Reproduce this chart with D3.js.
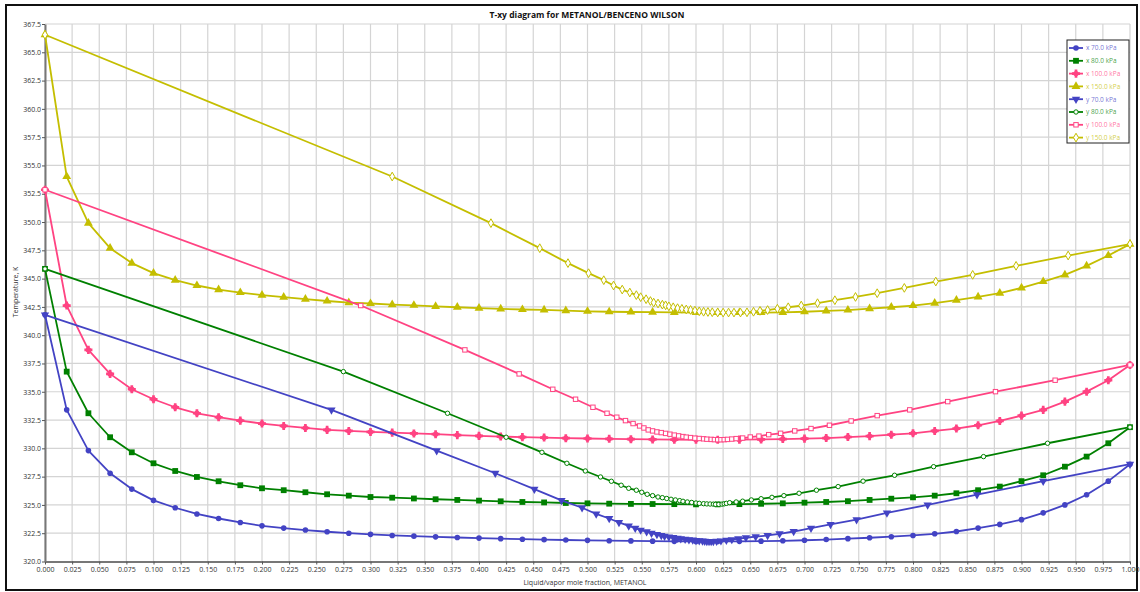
<!DOCTYPE html>
<html><head><meta charset="utf-8">
<script src="https://cdn.jsdelivr.net/npm/d3@7/dist/d3.min.js"></script>
<style>body{margin:0;background:#fff}svg{display:block;font-family:"Open Sans","Noto Sans",sans-serif}</style>
</head><body><svg id="c" width="1140" height="592"></svg>
<script>
const title = "T-xy diagram for METANOL/BENCENO WILSON";
const xLabel = "Liquid/vapor mole fraction, METANOL";
const yLabel = "Temperature, K";
const xs = [0.00,0.02,0.04,0.06,0.08,0.10,0.12,0.14,0.16,0.18,0.20,0.22,0.24,0.26,0.28,0.30,0.32,0.34,0.36,0.38,0.40,0.42,0.44,0.46,0.48,0.50,0.52,0.54,0.56,0.58,0.60,0.62,0.64,0.66,0.68,0.70,0.72,0.74,0.76,0.78,0.80,0.82,0.84,0.86,0.88,0.90,0.92,0.94,0.96,0.98,1.00];
const T70 = [341.8,333.4,329.8,327.8,326.4,325.4,324.75,324.2,323.8,323.45,323.15,322.95,322.78,322.63,322.5,322.4,322.3,322.24,322.18,322.12,322.07,322.02,321.97,321.93,321.9,321.87,321.84,321.82,321.8,321.78,321.77,321.77,321.78,321.8,321.83,321.88,321.94,322.02,322.1,322.19,322.3,322.45,322.65,322.95,323.28,323.7,324.3,325.0,325.9,327.1,328.6];
const Y70 = [0,0.264,0.361,0.415,0.451,0.476,0.495,0.508,0.520,0.529,0.538,0.544,0.549,0.5545,0.559,0.564,0.568,0.571,0.575,0.579,0.583,0.586,0.590,0.5935,0.597,0.600,0.603,0.606,0.608,0.610,0.612,0.614,0.616,0.619,0.623,0.628,0.633,0.639,0.646,0.655,0.666,0.677,0.690,0.706,0.724,0.748,0.776,0.8135,0.859,0.920,1.0];
const T80 = [345.86,336.78,333.1,330.98,329.65,328.68,328.0,327.47,327.09,326.74,326.47,326.3,326.12,325.94,325.82,325.7,325.64,325.57,325.5,325.44,325.38,325.32,325.26,325.22,325.17,325.14,325.11,325.09,325.08,325.07,325.05,325.05,325.07,325.1,325.14,325.2,325.26,325.33,325.44,325.55,325.67,325.82,326.03,326.3,326.62,327.1,327.62,328.38,329.27,330.45,331.87];
const Y80 = [0,0.275,0.371,0.425,0.458,0.481,0.498,0.512,0.522,0.531,0.538,0.545,0.550,0.555,0.560,0.565,0.569,0.573,0.577,0.581,0.585,0.588,0.592,0.596,0.600,0.603,0.607,0.610,0.613,0.616,0.618,0.621,0.624,0.626,0.628,0.631,0.637,0.643,0.651,0.660,0.670,0.681,0.695,0.711,0.731,0.754,0.783,0.819,0.865,0.924,1.0];
const T100 = [352.85,342.62,338.7,336.58,335.22,334.34,333.63,333.1,332.75,332.45,332.19,331.98,331.8,331.63,331.54,331.45,331.39,331.32,331.25,331.17,331.1,331.04,330.99,330.95,330.9,330.87,330.84,330.81,330.79,330.77,330.76,330.76,330.77,330.79,330.82,330.86,330.91,331.0,331.08,331.21,331.33,331.54,331.75,332.04,332.42,332.89,333.4,334.13,335.01,336.02,337.37];
const Y100 = [0,0.291,0.387,0.437,0.468,0.489,0.505,0.518,0.527,0.535,0.542,0.548,0.552,0.556,0.560,0.564,0.568,0.572,0.576,0.580,0.584,0.588,0.591,0.595,0.599,0.603,0.607,0.610,0.614,0.617,0.620,0.623,0.626,0.629,0.633,0.637,0.643,0.650,0.658,0.667,0.678,0.691,0.706,0.723,0.743,0.767,0.797,0.832,0.876,0.931,1.0];
const T150 = [366.55,354.02,349.9,347.69,346.37,345.48,344.86,344.39,344.03,343.77,343.54,343.36,343.18,343.02,342.88,342.8,342.7,342.64,342.55,342.47,342.39,342.33,342.27,342.23,342.17,342.11,342.07,342.05,342.03,342.01,342.0,342.0,342.0,342.0,342.02,342.07,342.15,342.22,342.34,342.47,342.62,342.83,343.09,343.38,343.71,344.18,344.74,345.33,346.13,347.04,348.05];
const Y150 = [0,0.320,0.411,0.456,0.482,0.501,0.515,0.524,0.532,0.539,0.545,0.549,0.554,0.558,0.561,0.565,0.569,0.572,0.575,0.579,0.583,0.587,0.591,0.595,0.599,0.603,0.607,0.611,0.615,0.620,0.625,0.630,0.635,0.641,0.647,0.653,0.659,0.666,0.675,0.685,0.697,0.712,0.728,0.747,0.767,0.792,0.821,0.855,0.895,0.943,1.0];
const xTicks = [0.000,0.025,0.050,0.075,0.100,0.125,0.150,0.175,0.200,0.225,0.250,0.275,0.300,0.325,0.350,0.375,0.400,0.425,0.450,0.475,0.500,0.525,0.550,0.575,0.600,0.625,0.650,0.675,0.700,0.725,0.750,0.775,0.800,0.825,0.850,0.875,0.900,0.925,0.950,0.975,1.000];
const yTicks = [320.0,322.5,325.0,327.5,330.0,332.5,335.0,337.5,340.0,342.5,345.0,347.5,350.0,352.5,355.0,357.5,360.0,362.5,365.0,367.5];
const seriesNames = ["x 70.0 kPa","x 80.0 kPa","x 100.0 kPa","x 150.0 kPa","y 70.0 kPa","y 80.0 kPa","y 100.0 kPa","y 150.0 kPa"];

const C = {b:"#4343c4", g:"#008000", p:"#ff4382", y:"#c4be00"};
const series = [
  {name:seriesNames[0], col:C.b, xv:xs, T:T70, m:"circle"},
  {name:seriesNames[1], col:C.g, xv:xs, T:T80, m:"square"},
  {name:seriesNames[2], col:C.p, xv:xs, T:T100, m:"star"},
  {name:seriesNames[3], col:C.y, xv:xs, T:T150, m:"triup"},
  {name:seriesNames[4], col:C.b, xv:Y70, T:T70, m:"tridown"},
  {name:seriesNames[5], col:C.g, xv:Y80, T:T80, m:"ocircle"},
  {name:seriesNames[6], col:C.p, xv:Y100, T:T100, m:"osquare"},
  {name:seriesNames[7], col:C.y, xv:Y150, T:T150, m:"odiamond"}
];

const svg = d3.select("#c");
const x = d3.scaleLinear().domain([0,1]).range([45,1130]);
const y = d3.scaleLinear().domain([320,367.5]).range([561.5,24]);

svg.append("rect").attr("x",6).attr("y",5).attr("width",1131).attr("height",585)
  .attr("fill","#fff").attr("stroke","#111").attr("stroke-width",2);

// grid
const grid = svg.append("g");
grid.selectAll(".gx").data(xTicks).join("line")
  .attr("x1",d=>x(d)).attr("x2",d=>x(d)).attr("y1",y(367.5)).attr("y2",y(320))
  .attr("stroke","#d4d4d4").attr("stroke-width",1.2);
grid.selectAll(".gy").data(yTicks).join("line")
  .attr("y1",d=>y(d)).attr("y2",d=>y(d)).attr("x1",x(0)).attr("x2",x(1))
  .attr("stroke","#d4d4d4").attr("stroke-width",1.2);

// axes
const ax = svg.append("g").attr("transform",`translate(0,${y(320)})`)
  .call(d3.axisBottom(x).tickValues(xTicks).tickFormat(d3.format(".3f")).tickSize(3).tickSizeOuter(0));
const ay = svg.append("g").attr("transform",`translate(${x(0)},0)`)
  .call(d3.axisLeft(y).tickValues(yTicks).tickFormat(d3.format(".1f")).tickSize(3).tickSizeOuter(0));
[ax,ay].forEach(a=>{
  a.select(".domain").attr("stroke","#777").attr("stroke-width",2);
  a.selectAll(".tick line").attr("stroke","#555");
  a.selectAll(".tick text").attr("fill","#333").style("font-size","7px").style("font-family","'Open Sans','Noto Sans',sans-serif");
});
ax.selectAll(".tick text").attr("dy","0.9em").attr("y",4);
ay.selectAll(".tick text").attr("x",-4);

svg.append("text").attr("x",587).attr("y",18).attr("text-anchor","middle")
  .style("font-size","8.5px").style("font-weight","bold").attr("fill","#111").text(title);
svg.append("text").attr("x",585).attr("y",585).attr("text-anchor","middle")
  .style("font-size","7px").attr("fill","#333").text(xLabel);
svg.append("text").attr("transform","translate(18,292) rotate(-90)").attr("text-anchor","middle")
  .style("font-size","7px").attr("fill","#333").text(yLabel);

function marker(g, m, col, cx, cy){
  const sym = d3.symbol();
  if(m==="circle") g.append("circle").attr("cx",cx).attr("cy",cy).attr("r",2.8).attr("fill",col);
  else if(m==="square") g.append("rect").attr("x",cx-2.9).attr("y",cy-2.9).attr("width",5.8).attr("height",5.8).attr("fill",col);
  else if(m==="star"){
    g.append("path").attr("d",sym.type(d3.symbolCross).size(36)()).attr("transform",`translate(${cx},${cy})`).attr("fill",col);
    g.append("circle").attr("cx",cx).attr("cy",cy).attr("r",2.7).attr("fill",col);
  }
  else if(m==="triup") g.append("path").attr("d",sym.type(d3.symbolTriangle).size(34)()).attr("transform",`translate(${cx},${cy})`).attr("fill",col);
  else if(m==="tridown") g.append("path").attr("d",sym.type(d3.symbolTriangle).size(30)()).attr("transform",`translate(${cx},${cy}) rotate(180)`).attr("fill",col);
  else if(m==="ocircle") g.append("circle").attr("cx",cx).attr("cy",cy).attr("r",2.2).attr("fill","#fff").attr("stroke",col).attr("stroke-width",1);
  else if(m==="osquare") g.append("rect").attr("x",cx-2.2).attr("y",cy-2.2).attr("width",4.4).attr("height",4.4).attr("fill","#fff").attr("stroke",col).attr("stroke-width",1);
  else if(m==="odiamond") g.append("path").attr("d",sym.type(d3.symbolDiamond).size(22)()).attr("transform",`translate(${cx},${cy})`).attr("fill","#fff").attr("stroke",col).attr("stroke-width",1);
}

const line = d3.line().x(d=>x(d[0])).y(d=>y(d[1]));
series.forEach(s=>{
  const pts = s.xv.map((v,i)=>[v,s.T[i]]);
  const g = svg.append("g");
  g.append("path").attr("d",line(pts)).attr("fill","none").attr("stroke",s.col).attr("stroke-width",1.8).attr("stroke-linejoin","round");
  pts.forEach(p=>marker(g, s.m, s.col, x(p[0]), y(p[1])));
});

// legend
const lg = svg.append("g");
lg.append("rect").attr("x",1067).attr("y",40).attr("width",62).attr("height",103)
  .attr("fill","#fff").attr("stroke","#222").attr("stroke-width",1);
series.forEach((s,i)=>{
  const cy = 48 + i*12.8;
  lg.append("line").attr("x1",1069).attr("x2",1083).attr("y1",cy).attr("y2",cy).attr("stroke",s.col).attr("stroke-width",1.8);
  marker(lg, s.m, s.col, 1076, cy);
  lg.append("text").attr("x",1086).attr("y",cy+2.4).style("font-size","6.5px").attr("fill",s.col).attr("fill-opacity",0.75).text(s.name);
});
</script></body></html>
